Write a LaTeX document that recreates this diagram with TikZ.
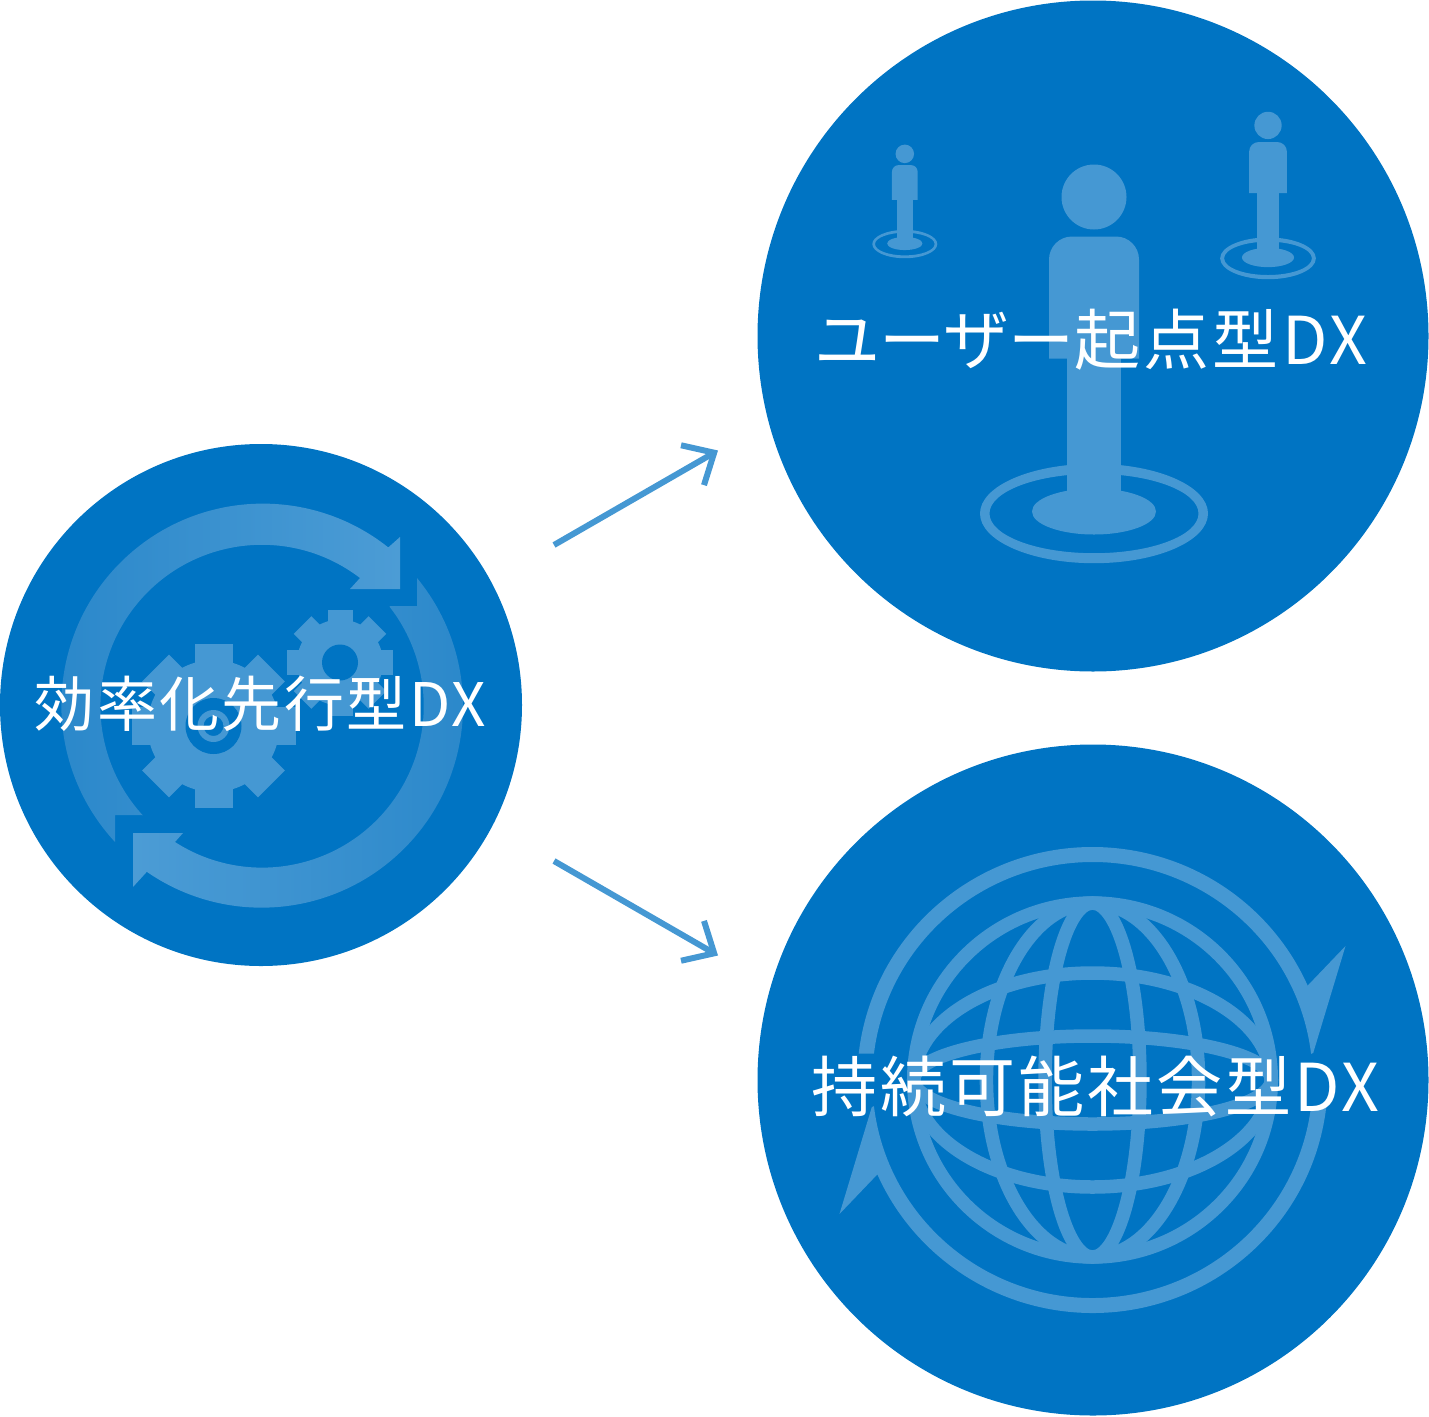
\documentclass[tikz,border=0pt]{standalone}
\usepackage{fontspec}
\usetikzlibrary{arrows.meta}
\newfontfamily\jpA[LetterSpace=4]{Noto Sans CJK JP}
\newfontfamily\jpB[LetterSpace=5]{Noto Sans CJK JP}
\newfontfamily\jpC[LetterSpace=4.6]{Noto Sans CJK JP}
\newfontfamily\jpK[LetterSpace=-1.5]{Noto Sans CJK JP}
\definecolor{dxblue}{HTML}{0074C3}
\definecolor{dxlight}{HTML}{4598D3}
\definecolor{dxlighter}{HTML}{4C9CD5}
\definecolor{dxmid}{HTML}{2987CA}
\tikzset{
  x=1pt,y=1pt,
  bigdisc/.style={circle,fill=dxblue,inner sep=0pt,outer sep=0pt},
  icon/.style={fill=dxlight,draw=none},
  hole/.style={fill=dxblue,draw=none},
  globeline/.style={draw=dxlight,line width=13.5pt},
  labelA/.style={text=white,inner sep=0pt,font=\jpA\fontsize{60}{60}\selectfont},
  labelB/.style={text=white,inner sep=0pt,font=\jpB\fontsize{66}{66}\selectfont},
  labelC/.style={text=white,inner sep=0pt,font=\jpC\fontsize{66}{66}\selectfont},
  flow/.style={draw=dxlight,line width=6pt,-{Straight Barb[length=25pt,width=46pt,line width=6pt]}}
}
\newcommand{\gearshape}[6]{% x y R r w hole
  \begin{scope}[shift={(#1,#2)}]
    \fill[icon] (0,0) circle[radius=#4];
    \foreach \a in {0,45,...,315}{
      \fill[icon,rotate=\a] (-#5,0) rectangle (#5,#3);
    }
    \fill[hole] (0,0) circle[radius=#6];
  \end{scope}
}
\newcommand{\personshape}[3]{% x y scale
  \begin{scope}[shift={(#1,#2)},scale=#3]
    \fill[icon,even odd rule] (0,-2) ellipse[x radius=114,y radius=49.7]
                              (0,-2) ellipse[x radius=104.5,y radius=39.7];
    \fill[icon] (0,0) ellipse[x radius=62,y radius=23];
    \fill[icon] (-27,0) rectangle (27,160);
    \fill[icon] (-45,153) -- (-45,252) arc[start angle=180,end angle=90,radius=23]
                -- (22,275) arc[start angle=90,end angle=0,radius=23] -- (45,153) -- cycle;
    \fill[icon] (0,314.5) circle[radius=32.5];
  \end{scope}
}
\begin{document}
\begin{tikzpicture}
\useasboundingbox (0,0) rectangle (1429,-1416);
% discs
\node[bigdisc,minimum size=522pt] (eff) at (261,-705) {};
\node[bigdisc,minimum size=671pt] (usr) at (1093,-336) {};
\node[bigdisc,minimum size=671pt] (sus) at (1093,-1080) {};
% connectors
\coordinate (a0) at (554,-545);
\coordinate (a1) at (718,-450.5);
\coordinate (b0) at (554,-861);
\coordinate (b1) at (718,-955.5);
\draw[flow] (a0) -- (a1);
\draw[flow] (b0) -- (b1);
% cycle arrows
\shade[left color=dxmid,right color=dxlighter]
  (115,-842) arc[start angle=222.8,end angle=51.5,radius=201.5]
  -- (400,-537) -- (400,-589) -- (350,-589) -- (360,-578)
  arc[start angle=52.6,end angle=222.5,radius=161.5]
  -- (143,-815) -- (115,-815) -- cycle;
\shade[left color=dxlighter,right color=dxmid]
  (417,-578) arc[start angle=39.5,end angle=-124.7,radius=201.5]
  -- (133,-887) -- (133,-833) -- (183,-833) -- (175,-842)
  arc[start angle=-122.7,end angle=38,radius=161.5]
  -- (390,-606) -- (417,-606) -- cycle;
% gears
\gearshape{213.5}{-726}{82}{66}{19}{28}
\fill[icon,even odd rule] (213.5,-726) circle[radius=16] (213.5,-726) circle[radius=10];
\gearshape{340}{-662.5}{53}{43}{12.5}{18}
% people
\personshape{904.8}{-243.5}{0.285}
\personshape{1268}{-257.5}{0.42}
\personshape{1094}{-511.5}{1}
% globe
\begin{scope}[shift={(1092.5,-1080)},xscale=1.01]
  \draw[globeline] (0,0) circle[radius=177];
  \draw[globeline] (0,0) ellipse[x radius=47,y radius=177];
  \draw[globeline] (0,0) ellipse[x radius=105,y radius=177];
  \draw[globeline] (0,0) ellipse[x radius=177,y radius=44];
  \draw[globeline] (0,0) ellipse[x radius=177,y radius=107];
  \foreach \r in {0,180}{
    \fill[icon,rotate=\r]
      (173.47:233) arc[start angle=173.47,end angle=23.9,radius=233]
      -- (250.5,134) -- (218.5,27) -- (6.9:218)
      arc[start angle=6.9,end angle=173.02,radius=218] -- cycle;
  }
\end{scope}
% labels
\node[labelA] (t1) at (260.5,-704) {効率化先行型DX};
\node[labelB] (t2) at (1091,-339.5) {{\jpK ユーザー}起点型DX};
\node[labelC] (t3) at (1095.5,-1086) {持続可能社会型DX};
\end{tikzpicture}
\end{document}
